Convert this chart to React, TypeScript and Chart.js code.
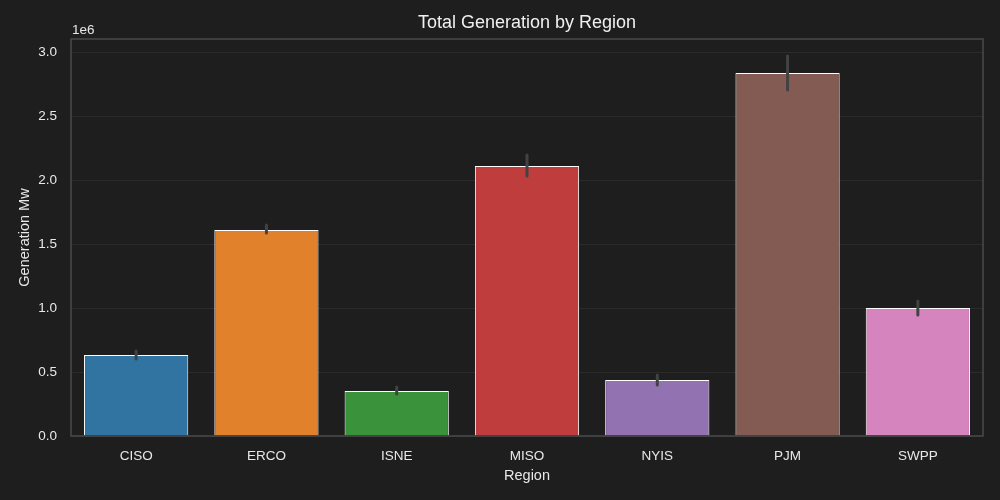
import React, { useEffect, useRef } from "react";
import { Chart, registerables } from "chart.js";

Chart.register(...registerables);

const regions = ["CISO", "ERCO", "ISNE", "MISO", "NYIS", "PJM", "SWPP"];
const generation = [633000, 1609000, 352000, 2109000, 437000, 2836000, 1000000];
const errLow = [602000, 1585000, 328000, 2031000, 398000, 2703000, 945000];
const errHigh = [664000, 1648000, 383000, 2195000, 477000, 2969000, 1055000];
const barColors = ["#3274a1", "#e1812c", "#3a923a", "#c03d3e", "#9372b2", "#845b53", "#d684bd"];
const yTicks = [0, 500000, 1000000, 1500000, 2000000, 2500000, 3000000];

const FONT = "'Liberation Sans', Arial, sans-serif";
const BG = "#1e1e1e";

const framePlugin = {
  id: "frameAndErrors",
  beforeDraw(chart: any) {
    const ctx = chart.ctx;
    ctx.save();
    ctx.fillStyle = BG;
    ctx.fillRect(0, 0, chart.width, chart.height);
    ctx.restore();
  },
  afterDatasetsDraw(chart: any) {
    const ctx = chart.ctx;
    const x = chart.scales.x;
    const y = chart.scales.y;
    ctx.save();
    ctx.strokeStyle = "#424242";
    ctx.lineWidth = 3;
    ctx.lineCap = "round";
    regions.forEach((_, i) => {
      const px = x.getPixelForValue(i);
      ctx.beginPath();
      ctx.moveTo(px, y.getPixelForValue(errLow[i]));
      ctx.lineTo(px, y.getPixelForValue(errHigh[i]));
      ctx.stroke();
    });
    const a = chart.chartArea;
    ctx.strokeStyle = "#4a4a4a";
    ctx.lineWidth = 1.5;
    ctx.lineCap = "butt";
    ctx.strokeRect(a.left, a.top, a.right - a.left, a.bottom - a.top);
    ctx.fillStyle = "#e8e8e8";
    ctx.font = `13.5px ${FONT}`;
    ctx.textAlign = "left";
    ctx.textBaseline = "bottom";
    ctx.fillText("1e6", a.left + 1, a.top - 2);
    ctx.restore();
  },
};

export default function App() {
  const ref = useRef<HTMLCanvasElement>(null);
  useEffect(() => {
    const chart = new Chart(ref.current as HTMLCanvasElement, {
      type: "bar",
      data: {
        labels: regions,
        datasets: [
          {
            data: generation,
            backgroundColor: barColors,
            borderColor: "#ffffff",
            borderWidth: 1,
            categoryPercentage: 1,
            barPercentage: 0.8,
          },
        ],
      },
      options: {
        animation: false,
        responsive: false,
        devicePixelRatio: 1,
        layout: { padding: { left: 0, right: 17, top: 0, bottom: 0 } },
        plugins: {
          legend: { display: false },
          tooltip: { enabled: false },
          title: {
            display: true,
            fullSize: false,
            text: "Total Generation by Region",
            color: "#f0f0f0",
            font: { family: FONT, size: 18, weight: "normal" },
            padding: { top: 12.2, bottom: 5.2 },
          },
        },
        scales: {
          x: {
            type: "category",
            grid: { display: false, drawTicks: false },
            border: { display: false },
            ticks: { color: "#e8e8e8", font: { family: FONT, size: 13.5 }, padding: 12 },
            title: {
              display: true,
              text: "Region",
              color: "#e8e8e8",
              font: { family: FONT, size: 14.5 },
              padding: { top: 0, bottom: 15.3 },
            },
            afterFit: (s: any) => {
              s.height = 64;
            },
          },
          y: {
            type: "linear",
            min: 0,
            max: 3101600,
            grid: { color: "#2b2b2b", lineWidth: 1, drawTicks: false },
            border: { display: false },
            afterBuildTicks: (s: any) => {
              s.ticks = yTicks.map((v) => ({ value: v }));
            },
            ticks: {
              color: "#e8e8e8",
              font: { family: FONT, size: 13.5 },
              padding: 14,
              callback: (v: any) => (Number(v) / 1e6).toFixed(1),
            },
            title: {
              display: true,
              text: "Generation Mw",
              color: "#e8e8e8",
              font: { family: FONT, size: 14.5 },
              padding: { top: 15.8, bottom: 0 },
            },
            afterFit: (s: any) => {
              s.width = 71;
            },
          },
        },
      },
      plugins: [framePlugin],
    } as any);
    return () => chart.destroy();
  }, []);
  return (
    <div style={{ position: "fixed", left: 0, top: 0, width: 1000, height: 500, background: BG }}>
      <canvas ref={ref} width={1000} height={500} style={{ width: 1000, height: 500, display: "block" }} />
    </div>
  );
}
